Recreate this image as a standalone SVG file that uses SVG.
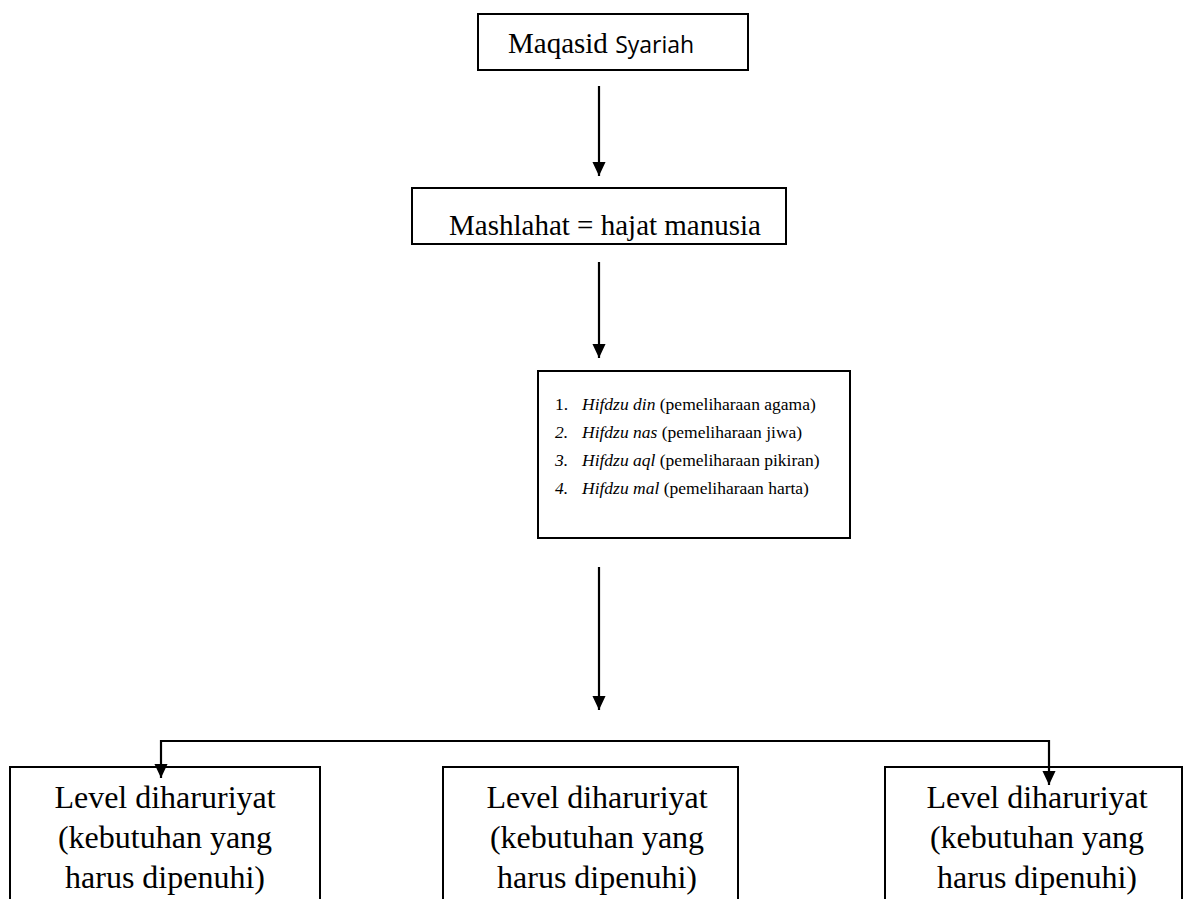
<svg xmlns="http://www.w3.org/2000/svg" width="1184" height="899" viewBox="0 0 1184 899">
<style>
.box{fill:#fff;stroke:#000;stroke-width:2}
.t{font-family:"Liberation Serif","Times New Roman",serif;fill:#000}
.c{stroke:#000;stroke-width:2.2;fill:none}
</style>
<defs>
<marker id="ah" markerUnits="userSpaceOnUse" markerWidth="14" markerHeight="16" refX="15" refY="7" orient="auto" viewBox="0 0 15 14">
<path d="M0,0 L15,7 L0,14 z" fill="#000"/>
</marker>
</defs>
<rect width="1184" height="899" fill="#fff"/>
<g id="n1">
<rect class="box" x="478" y="14" width="270" height="56"/>
<text class="t" x="508" y="53" font-size="29">Maqasid <tspan font-family="'Open Sans','Noto Sans',sans-serif" font-size="23">Syariah</tspan></text>
</g>
<g id="n2">
<rect class="box" x="412" y="188" width="374" height="56"/>
<text class="t" x="605" y="235" font-size="29" text-anchor="middle">Mashlahat = hajat manusia</text>
</g>
<g id="n3">
<rect class="box" x="538" y="371" width="312" height="167"/>
<g class="t" font-size="17.5">
<text x="555" y="410">1.</text><text x="582" y="410"><tspan font-style="italic">Hifdzu din</tspan> (pemeliharaan agama)</text>
<text x="555" y="438" font-style="italic">2.</text><text x="582" y="438"><tspan font-style="italic">Hifdzu nas</tspan> (pemeliharaan jiwa)</text>
<text x="555" y="466" font-style="italic">3.</text><text x="582" y="466"><tspan font-style="italic">Hifdzu aql</tspan> (pemeliharaan pikiran)</text>
<text x="555" y="494" font-style="italic">4.</text><text x="582" y="494"><tspan font-style="italic">Hifdzu mal</tspan> (pemeliharaan harta)</text>
</g>
</g>
<g id="n4">
<path class="box" d="M10,905 L10,767 L320,767 L320,905"/>
<text class="t" font-size="32" text-anchor="middle"><tspan x="165" y="808">Level diharuriyat</tspan><tspan x="165" y="848">(kebutuhan yang</tspan><tspan x="165" y="888">harus dipenuhi)</tspan></text>
</g>
<g id="n5">
<path class="box" d="M443,905 L443,767 L738,767 L738,905"/>
<text class="t" font-size="32" text-anchor="middle"><tspan x="597" y="808">Level diharuriyat</tspan><tspan x="597" y="848">(kebutuhan yang</tspan><tspan x="597" y="888">harus dipenuhi)</tspan></text>
</g>
<g id="n6">
<path class="box" d="M885,905 L885,767 L1182,767 L1182,905"/>
<text class="t" font-size="32" text-anchor="middle"><tspan x="1037" y="808">Level diharuriyat</tspan><tspan x="1037" y="848">(kebutuhan yang</tspan><tspan x="1037" y="888">harus dipenuhi)</tspan></text>
</g>
<g id="connectors">
<line class="c" x1="599" y1="86" x2="599" y2="176" marker-end="url(#ah)"/>
<line class="c" x1="599" y1="262" x2="599" y2="358" marker-end="url(#ah)"/>
<line class="c" x1="599" y1="567" x2="599" y2="710" marker-end="url(#ah)"/>
<line class="c" x1="161" y1="741" x2="1049" y2="741"/>
<line class="c" x1="161" y1="740" x2="161" y2="778" marker-end="url(#ah)"/>
<line class="c" x1="1049" y1="740" x2="1049" y2="785" marker-end="url(#ah)"/>
</g>
</svg>
